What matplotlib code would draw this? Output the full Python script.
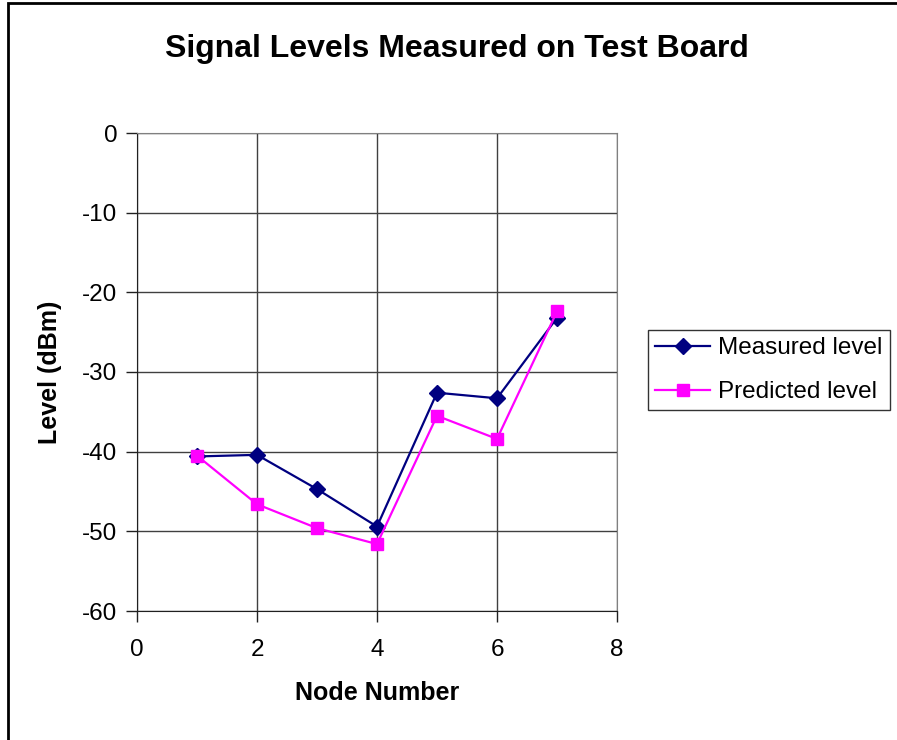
import matplotlib.pyplot as plt
from matplotlib.patches import Rectangle

plt.rcParams['font.family'] = ['Liberation Sans', 'DejaVu Sans']
plt.rcParams['axes.unicode_minus'] = False

nodes = [1, 2, 3, 4, 5, 6, 7]
measured = [-40.6, -40.4, -44.7, -49.4, -32.6, -33.3, -23.2]
predicted = [-40.5, -46.6, -49.6, -51.6, -35.5, -38.4, -22.4]

fig = plt.figure(figsize=(8.97, 7.40), dpi=100)
ax = fig.add_axes([137/897, 129/740, 480/897, 478/740])

ax.plot(nodes, measured, color="#000080", marker="D", markersize=8, lw=1.6,
        label="Measured level")
ax.plot(nodes, predicted, color="#FF00FF", marker="s", markersize=8, lw=1.6,
        label="Predicted level")

ax.set_xlim(0, 8)
ax.set_ylim(-60, 0)
ax.set_xticks(range(0, 9, 2))
ax.set_yticks(range(-60, 1, 10))
ax.grid(True, color="#404040", lw=1)
ax.set_axisbelow(True)
for s in ["top", "right"]:
    ax.spines[s].set_color("#808080")
for s in ["left", "bottom"]:
    ax.spines[s].set_color("#202020")
ax.tick_params(direction="out", length=8, width=1, labelsize=17.5, color="#202020")
ax.tick_params(axis="y", pad=6)
ax.tick_params(axis="x", pad=12)

ax.set_xlabel("Node Number", fontsize=18, fontweight="bold", va="center")
ax.xaxis.set_label_coords(0.5, (611 - 693) / 478)
ax.set_ylabel("Level (dBm)", fontsize=18, fontweight="bold", va="center")
ax.yaxis.set_label_coords((50 - 137) / 480, 0.5)
fig.text(457/897, 1 - 49/740, "Signal Levels Measured on Test Board",
         ha="center", va="center", fontsize=23, fontweight="bold")

leg = fig.legend(loc="upper left", bbox_to_anchor=(648/897, 1 - 330/740),
                 fontsize=17.5, frameon=True, fancybox=False, handlelength=2.25,
                 borderpad=0.3, labelspacing=0.9, handletextpad=0.33,
                 borderaxespad=0)
leg.get_frame().set_edgecolor("black")
leg.get_frame().set_linewidth(1)

fig.patches.append(Rectangle((8/897, -0.1), 1.2, 1.1 - 3/740, transform=fig.transFigure,
                             fill=False, edgecolor="black", lw=2))

fig.savefig("out.png", dpi=100)
